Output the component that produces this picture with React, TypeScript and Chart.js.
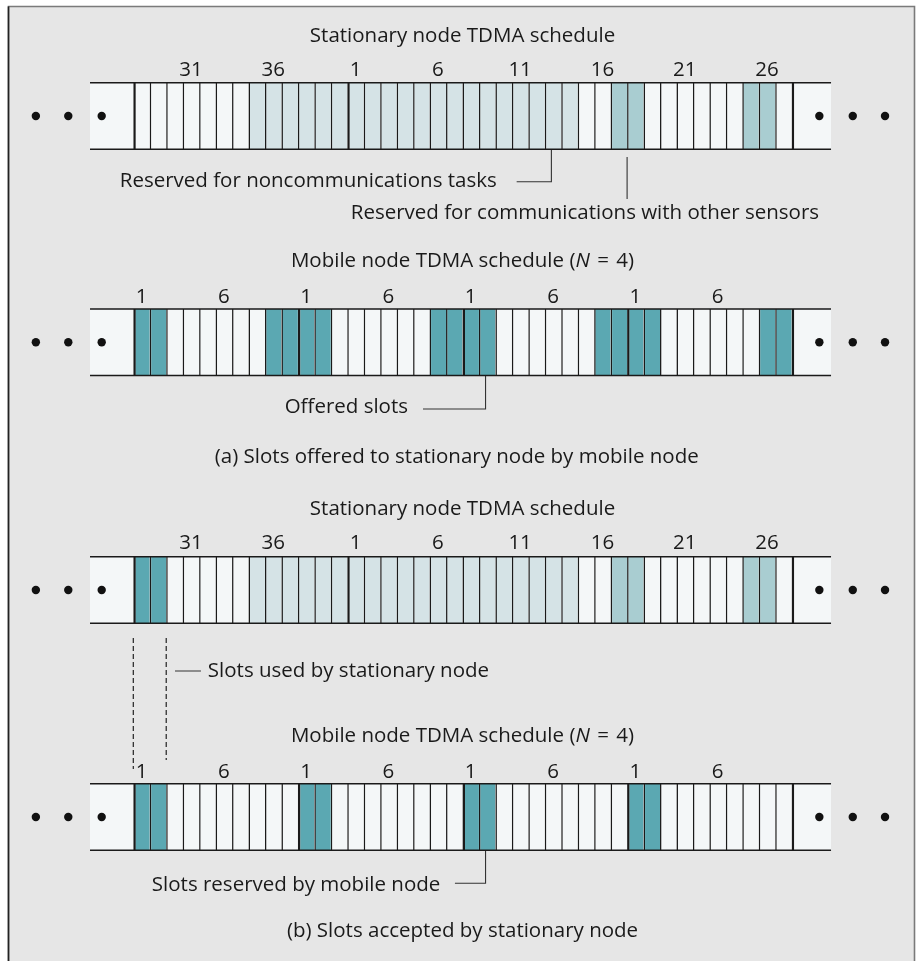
import React, { useEffect, useRef } from 'react';
import { Chart, registerables } from 'chart.js';

Chart.register(...registerables);

// ---------------- data ----------------
const VISIBLE_SLOTS = 40;              // slots shown between the two end cells
const STATIONARY_CYCLE = 40;           // stationary node frame length
const STATIONARY_FIRST = 28;           // number of the first visible stationary slot
const MOBILE_CYCLE = 10;               // mobile node frame length
const MOBILE_FIRST = 1;                // number of the first visible mobile slot
const STATIONARY_TICKS = [31, 36, 1, 6, 11, 16, 21, 26];
const MOBILE_TICKS = [1, 6, 1, 6, 1, 6, 1, 6];
const NONCOMM_SLOTS = [35, 36, 37, 38, 39, 40, 1, 2, 3, 4, 5, 6, 7, 8, 9, 10, 11, 12, 13, 14];
const COMM_SLOTS = [17, 18, 25, 26];
const OFFERED_MOBILE_SLOTS = [9, 10, 1, 2];   // N = 4
const RESERVED_MOBILE_SLOTS = [1, 2];
const USED_STATIONARY_SLOTS = [28, 29];

const STATIONARY_TITLE = 'Stationary node TDMA schedule';
const MOBILE_TITLE_PARTS = [
  { t: 'Mobile node TDMA schedule (', italic: false },
  { t: 'N', italic: true },
  { t: ' \u200a= \u200a4)', italic: false },
];
const CAPTION_A = '(a) Slots offered to stationary node by mobile node';
const CAPTION_B = '(b) Slots accepted by stationary node';
const NOTE_NONCOMM = 'Reserved for noncommunications tasks';
const NOTE_COMM = 'Reserved for communications with other sensors';
const NOTE_OFFERED = 'Offered slots';
const NOTE_USED = 'Slots used by stationary node';
const NOTE_RESERVED = 'Slots reserved by mobile node';

// ---------------- layout & style ----------------
const W = 919;
const H = 961;
const SLOT_PX0 = 133.3;    // pixel of the first slot's left edge
const SLOT_PX = 16.46;     // pixel width of one slot
const X_MIN = -SLOT_PX0 / SLOT_PX;
const X_MAX = (W - SLOT_PX0) / SLOT_PX;
const LEFT_END = -2.63;
const RIGHT_END = 42.39;
const ROW_Y = [116, 342.3, 590, 817];
const ROW_H = 66.5;
const TITLE_Y = [36.5, 261, 509, 736];
const TICK_Y = [70.5, 297, 543.5, 772];
const TITLE_X = 20;
const DOTS_LEFT = [-5.92, -3.95, -1.92];
const DOTS_RIGHT = [41.68, 43.71, 45.67];

const FONT = '"Open Sans", "Noto Sans", sans-serif';
const FONT_SIZE = 20.5;
const C_FRAME = '#e6e6e6';
const C_WHITE = '#f4f7f8';
const C_NONCOMM = '#d5e3e6';
const C_COMM = '#a9cdd1';
const C_TEAL = '#5ba8b2';
const C_LINE = '#1a1a1a';
const BW_THIN = 1.5;
const BW_THICK = 2.5;

// ---------------- helpers ----------------
const stationaryNum = (i: number) => ((STATIONARY_FIRST - 1 + i) % STATIONARY_CYCLE) + 1;
const mobileNum = (i: number) => ((MOBILE_FIRST - 1 + i) % MOBILE_CYCLE) + 1;

function tickIndices(ticks: number[], numOf: (i: number) => number) {
  const out: number[] = [];
  let start = 0;
  for (const t of ticks) {
    for (let i = start; i < VISIBLE_SLOTS; i++) {
      if (numOf(i) === t) { out.push(i); start = i + 1; break; }
    }
  }
  return out;
}

type Cell = { x0: number; x1: number; row: number; color: string; bw: number };

function buildCells(): Cell[] {
  const cells: Cell[] = [];
  const rows = [
    { kind: 's', used: [] as number[] },
    { kind: 'm', used: OFFERED_MOBILE_SLOTS },
    { kind: 's', used: USED_STATIONARY_SLOTS },
    { kind: 'm', used: RESERVED_MOBILE_SLOTS },
  ];
  rows.forEach((r, row) => {
    cells.push({ x0: LEFT_END, x1: 0, row, color: C_WHITE, bw: 0 });
    for (let i = 0; i < VISIBLE_SLOTS; i++) {
      let color = C_WHITE;
      let bw = BW_THIN;
      if (r.kind === 's') {
        const n = stationaryNum(i);
        if (NONCOMM_SLOTS.includes(n)) color = C_NONCOMM;
        if (COMM_SLOTS.includes(n)) color = C_COMM;
        if (r.used.includes(n) && i < 2) color = C_TEAL;
        if (n === 1 || i === 0) bw = BW_THICK;
      } else {
        const n = mobileNum(i);
        if (r.used.includes(n)) color = C_TEAL;
        if (n === 1 || i === 0) bw = BW_THICK;
      }
      cells.push({ x0: i, x1: i + 1, row, color, bw });
    }
    cells.push({ x0: VISIBLE_SLOTS, x1: RIGHT_END, row, color: C_WHITE, bw: BW_THICK });
  });
  return cells;
}

export default function App() {
  const ref = useRef<HTMLCanvasElement | null>(null);

  useEffect(() => {
    const canvas = ref.current;
    if (!canvas) return;
    const cells = buildCells();

    const rails: any[] = [];
    ROW_Y.forEach((cy) => {
      [cy - ROW_H / 2, cy + ROW_H / 2].forEach((yy) => {
        rails.push({ x: LEFT_END, y: yy }, { x: RIGHT_END, y: yy }, { x: RIGHT_END, y: null });
      });
    });

    const leaders = [
      { x: 25.4, y: ROW_Y[0] + ROW_H / 2 }, { x: 25.4, y: 181.7 }, { x: 23.29, y: 181.7 }, { x: 23.29, y: null },
      { x: 30, y: 157 }, { x: 30, y: 199 }, { x: 30, y: null },
      { x: 21.4, y: ROW_Y[1] + ROW_H / 2 }, { x: 21.4, y: 409 }, { x: 17.6, y: 409 }, { x: 17.6, y: null },
      { x: 2.53, y: 671 }, { x: 4.11, y: 671 }, { x: 4.11, y: null },
      { x: 21.4, y: ROW_Y[3] + ROW_H / 2 }, { x: 21.4, y: 883.3 }, { x: 19.54, y: 883.3 },
    ];
    const dashed = [
      { x: 0, y: 638 }, { x: 0, y: 769 }, { x: 0, y: null },
      { x: 2, y: 638 }, { x: 2, y: 760 },
    ];
    const dots: any[] = [];
    ROW_Y.forEach((cy) => {
      [...DOTS_LEFT, ...DOTS_RIGHT].forEach((dx) => dots.push({ x: dx, y: cy }));
    });

    const sTicks = tickIndices(STATIONARY_TICKS, stationaryNum);
    const mTicks = tickIndices(MOBILE_TICKS, mobileNum);

    const framePlugin = {
      id: 'frame',
      beforeDraw(chart: any) {
        const { ctx } = chart;
        ctx.save();
        ctx.fillStyle = '#ffffff';
        ctx.fillRect(0, 0, W, H);
        ctx.fillStyle = C_FRAME;
        ctx.fillRect(8, 6, 907, H);
        ctx.lineWidth = 1.6;
        ctx.strokeStyle = '#7a7a7a';
        ctx.beginPath();
        ctx.moveTo(8.5, H); ctx.lineTo(8.5, 6.5); ctx.lineTo(914.5, 6.5); ctx.lineTo(914.5, H);
        ctx.stroke();
        ctx.strokeStyle = '#222';
        ctx.beginPath();
        ctx.moveTo(8.5, H); ctx.lineTo(8.5, 6.5);
        ctx.stroke();
        ctx.restore();
      },
    };

    const textPlugin = {
      id: 'diagramText',
      afterDatasetsDraw(chart: any) {
        const { ctx } = chart;
        const xs = chart.scales.x;
        const ys = chart.scales.y;
        const px = (v: number) => xs.getPixelForValue(v);
        const py = (v: number) => ys.getPixelForValue(v);
        const norm = `${FONT_SIZE}px ${FONT}`;
        const ital = `italic ${FONT_SIZE}px ${FONT}`;
        ctx.save();
        ctx.fillStyle = C_LINE;
        ctx.textBaseline = 'middle';
        ctx.font = norm;
        const text = (t: string, x: number, y: number, align: CanvasTextAlign) => {
          ctx.textAlign = align;
          ctx.fillText(t, px(x), py(y));
        };
        const mobileTitle = (y: number) => {
          let total = 0;
          MOBILE_TITLE_PARTS.forEach((p) => { ctx.font = p.italic ? ital : norm; total += ctx.measureText(p.t).width; });
          let cx = px(TITLE_X) - total / 2;
          ctx.textAlign = 'left';
          MOBILE_TITLE_PARTS.forEach((p) => {
            ctx.font = p.italic ? ital : norm;
            ctx.fillText(p.t, cx, py(y));
            cx += ctx.measureText(p.t).width;
          });
          ctx.font = norm;
        };
        // titles
        text(STATIONARY_TITLE, TITLE_X, TITLE_Y[0], 'center');
        mobileTitle(TITLE_Y[1]);
        text(STATIONARY_TITLE, TITLE_X, TITLE_Y[2], 'center');
        mobileTitle(TITLE_Y[3]);
        // tick labels
        [0, 2].forEach((r) => sTicks.forEach((idx, k) => text(String(STATIONARY_TICKS[k]), idx + 0.5, TICK_Y[r], 'center')));
        [1, 3].forEach((r) => mTicks.forEach((idx, k) => text(String(MOBILE_TICKS[k]), idx + 0.5, TICK_Y[r], 'center')));
        // notes
        text(NOTE_NONCOMM, 22.08, 181, 'right');
        text(NOTE_COMM, 13.21, 213, 'left');
        text(NOTE_OFFERED, 16.69, 407, 'right');
        text(NOTE_USED, 4.53, 671, 'left');
        text(NOTE_RESERVED, 18.65, 885, 'right');
        // captions
        text(CAPTION_A, 19.65, 457, 'center');
        text(CAPTION_B, TITLE_X, 931.5, 'center');
        ctx.restore();
      },
    };

    const chart = new Chart(canvas, {
      type: 'bar',
      data: {
        datasets: [
          {
            type: 'scatter',
            data: dots,
            backgroundColor: '#111',
            borderWidth: 0,
            pointRadius: 4.2,
            order: 0,
          } as any,
          {
            type: 'line',
            data: rails,
            borderColor: C_LINE,
            borderWidth: 1.6,
            pointRadius: 0,
            fill: false,
            spanGaps: false,
            order: 1,
          } as any,
          {
            type: 'line',
            data: leaders,
            borderColor: '#333',
            borderWidth: 1.1,
            pointRadius: 0,
            fill: false,
            spanGaps: false,
            order: 2,
          } as any,
          {
            type: 'line',
            data: dashed,
            borderColor: '#222',
            borderWidth: 1.2,
            borderDash: [5, 3],
            pointRadius: 0,
            fill: false,
            spanGaps: false,
            order: 3,
          } as any,
          {
            type: 'bar',
            indexAxis: 'y',
            data: cells.map((c) => ({ x: [c.x0, c.x1], y: ROW_Y[c.row] })) as any,
            backgroundColor: cells.map((c) => c.color),
            borderColor: C_LINE,
            borderWidth: (ctx: any) => {
              const c = cells[ctx.dataIndex];
              return { left: c ? c.bw : 0, right: 0, top: 0, bottom: 0 };
            },
            borderSkipped: false,
            inflateAmount: 0,
            barThickness: ROW_H,
            grouped: false,
            order: 4,
          } as any,
        ],
      },
      options: {
        animation: false,
        responsive: false,
        devicePixelRatio: 1,
        layout: { padding: 0, autoPadding: false },
        events: [],
        plugins: { legend: { display: false }, tooltip: { enabled: false } },
        scales: {
          x: { type: 'linear', min: X_MIN, max: X_MAX, display: false, offset: false },
          y: { type: 'linear', min: 0, max: H, reverse: true, display: false, offset: false },
        },
      } as any,
      plugins: [framePlugin, textPlugin],
    });
    return () => chart.destroy();
  }, []);

  return (
    <div style={{ position: 'absolute', left: 0, top: 0, width: W, height: H }}>
      <canvas ref={ref} width={W} height={H} style={{ width: W, height: H, display: 'block' }} />
    </div>
  );
}
